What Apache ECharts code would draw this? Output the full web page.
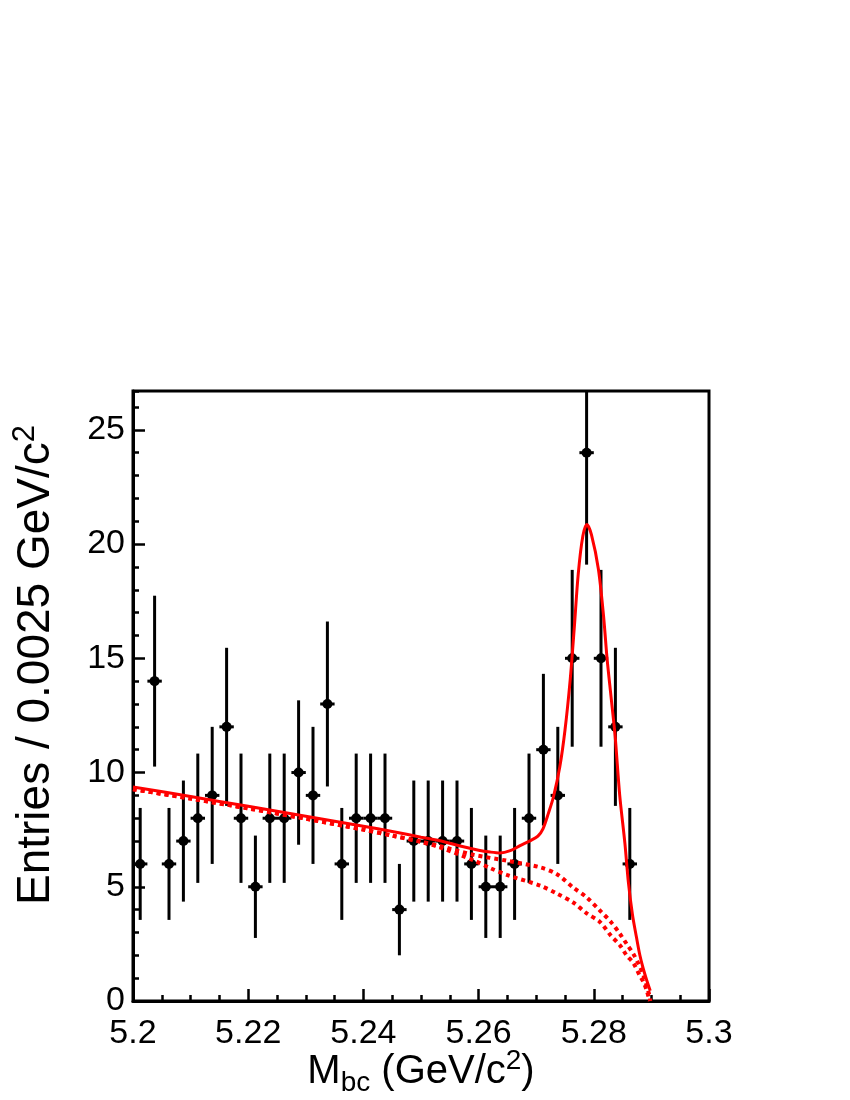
<!DOCTYPE html>
<html>
<head>
<meta charset="utf-8">
<title>Mbc fit</title>
<script src="https://cdn.jsdelivr.net/npm/echarts@6.0.0/dist/echarts.min.js"></script>
<style>
    html, body { margin: 0; padding: 0; background: #fff; }
    #mbc_chart { width: 850px; height: 1100px; }
</style>
</head>
<body>
<div id="mbc_chart"></div>
<script>
// Data
// ------------------------------

var binWidth = 0.0025;

// bin centres (GeV/c^2)
var binCenters = [
    5.20125, 5.20375, 5.20625, 5.20875, 5.21125, 5.21375, 5.21625, 5.21875,
    5.22125, 5.22375, 5.22625, 5.22875, 5.23125, 5.23375, 5.23625, 5.23875,
    5.24125, 5.24375, 5.24625, 5.24875, 5.25125, 5.25375, 5.25625, 5.25875,
    5.26125, 5.26375, 5.26625, 5.26875, 5.27125, 5.27375, 5.27625, 5.27875,
    5.28125, 5.28375, 5.28625
];

// entries per bin
var entries = [
    6, 14, 6, 7, 8, 9, 12, 8,
    5, 8, 8, 10, 9, 13, 6, 8,
    8, 8, 4, 7, 7, 7, 7, 6,
    5, 5, 6, 8, 11, 9, 15, 24,
    15, 12, 6
];

// error bar half lengths
var errors = [
    2.45, 3.74, 2.45, 2.65, 2.83, 3.00, 3.46, 2.83,
    2.24, 2.83, 2.83, 3.16, 3.00, 3.61, 2.45, 2.83,
    2.83, 2.83, 2.00, 2.65, 2.65, 2.65, 2.65, 2.45,
    2.24, 2.24, 2.45, 2.83, 3.32, 3.00, 3.87, 4.90,
    3.87, 3.46, 2.45
];

// total fit (solid)
var fitTotal = [
    [5.2000, 9.37], [5.2100, 8.95], [5.2200, 8.52], [5.2300, 8.09], [5.2400, 7.65],
    [5.2450, 7.42], [5.2500, 7.17], [5.2540, 6.97], [5.2570, 6.77], [5.2600, 6.60],
    [5.2620, 6.52], [5.2637, 6.48], [5.2655, 6.58], [5.2672, 6.80], [5.2690, 7.02],
    [5.2703, 7.22], [5.2712, 7.55], [5.2721, 8.20], [5.2730, 8.94], [5.2741, 10.25],
    [5.2750, 11.86], [5.2759, 14.06], [5.2766, 16.30], [5.2773, 18.70], [5.2781, 20.35],
    [5.2788, 20.86], [5.2796, 20.40], [5.2808, 18.90], [5.2817, 16.83], [5.2823, 15.00],
    [5.2830, 13.30], [5.2837, 11.60], [5.2845, 9.00], [5.2854, 6.90], [5.2860, 5.20],
    [5.2867, 3.80], [5.2874, 2.80], [5.2880, 2.00], [5.2886, 1.40], [5.2892, 0.90],
    [5.2898, 0.45]
];

// background components (dotted)
var bkgUpper = [
    [5.2000, 9.27], [5.2100, 8.86], [5.2200, 8.43], [5.2300, 7.98], [5.2400, 7.50],
    [5.2450, 7.24], [5.2500, 6.98], [5.2533, 6.78], [5.2591, 6.40], [5.2649, 6.14],
    [5.2707, 5.85], [5.2736, 5.55], [5.2765, 4.95], [5.2787, 4.55], [5.2811, 3.95],
    [5.2830, 3.45], [5.2845, 2.95], [5.2857, 2.50], [5.2869, 2.05], [5.2880, 1.50],
    [5.2886, 1.15], [5.2892, 0.65], [5.2896, 0.30], [5.2898, 0.00]
];
var bkgLower = [
    [5.2000, 9.27], [5.2100, 8.86], [5.2200, 8.43], [5.2300, 7.98], [5.2400, 7.50],
    [5.2450, 7.24], [5.2500, 6.96], [5.2533, 6.72], [5.2591, 6.16], [5.2620, 5.82],
    [5.2649, 5.52], [5.2707, 5.05], [5.2736, 4.70], [5.2765, 4.30], [5.2787, 3.85],
    [5.2811, 3.45], [5.2830, 2.85], [5.2845, 2.45], [5.2857, 2.00], [5.2869, 1.65],
    [5.2880, 1.10], [5.2886, 0.85], [5.2892, 0.45], [5.2897, 0.00]
];


// Setup chart
// ------------------------------

var fontFamily = '"Liberation Sans", Arial, Helvetica, sans-serif';

var pointData = binCenters.map(function(x, i) {
    return [x, entries[i], errors[i]];
});

var renderPoint = function(params, api) {
    var x = api.value(0);
    var y = api.value(1);
    var e = api.value(2);
    var top = api.coord([x, y + e]);
    var bot = api.coord([x, y - e]);
    var left = api.coord([x - binWidth / 2, y]);
    var right = api.coord([x + binWidth / 2, y]);
    var c = api.coord([x, y]);
    return {
        type: 'group',
        children: [
            { type: 'line', shape: { x1: top[0], y1: top[1], x2: bot[0], y2: bot[1] }, style: { stroke: '#000', lineWidth: 3 } },
            { type: 'line', shape: { x1: left[0], y1: c[1], x2: right[0], y2: c[1] }, style: { stroke: '#000', lineWidth: 3 } },
            { type: 'circle', shape: { cx: c[0], cy: c[1], r: 5 }, style: { fill: '#000' } }
        ]
    };
};

var chart = echarts.init(document.getElementById('mbc_chart'), null, { renderer: 'canvas' });

chart.setOption({
    backgroundColor: '#fff',
    animation: false,
    textStyle: { fontFamily: fontFamily, color: '#000' },

    grid: {
        left: 133,
        top: 391,
        width: 576,
        height: 610,
        outerBoundsMode: 'none',
        containLabel: false,
        show: true,
        borderColor: '#000',
        borderWidth: 3,
        backgroundColor: 'transparent'
    },

    xAxis: {
        type: 'value',
        min: 5.2,
        max: 5.3,
        interval: 0.02,
        name: '{m|M}{sub|bc}{m| (GeV/c}{sup|2}{m|)}',
        nameLocation: 'middle',
        nameGap: 46,
        nameMoveOverlap: false,
        nameTextStyle: {
            color: '#000',
            rich: {
                m: { fontSize: 40, fontFamily: fontFamily, color: '#000', lineHeight: 46 },
                sub: { fontSize: 28, fontFamily: fontFamily, color: '#000', verticalAlign: 'bottom', padding: [22, 0, 0, 0] },
                sup: { fontSize: 28, fontFamily: fontFamily, color: '#000', verticalAlign: 'top', padding: [0, 0, 14, 0] }
            }
        },
        axisLine: { onZero: false, lineStyle: { color: '#000', width: 3 } },
        axisTick: { inside: true, length: 12, lineStyle: { color: '#000', width: 2.5 } },
        minorTick: { show: true, splitNumber: 4, length: 6, lineStyle: { color: '#000', width: 2.5 } },
        axisLabel: {
            margin: 16,
            fontSize: 34,
            color: '#000',
            fontFamily: fontFamily,
            formatter: function(v) { return String(+v.toFixed(2)); }
        },
        splitLine: { show: false },
        minorSplitLine: { show: false }
    },

    yAxis: [{
        type: 'value',
        min: 0,
        max: 26.7,
        interval: 5,
        name: '{m|Entries / 0.0025 GeV/c}{sup|2}',
        nameLocation: 'middle',
        nameRotate: 90,
        nameGap: 71,
        nameMoveOverlap: false,
        nameTextStyle: {
            color: '#000',
            padding: [0, 0, 0, 62],
            rich: {
                m: { fontSize: 46, fontFamily: fontFamily, color: '#000', lineHeight: 52 },
                sup: { fontSize: 31, fontFamily: fontFamily, color: '#000', verticalAlign: 'top', padding: [0, 0, 14, 0] }
            }
        },
        axisLine: { lineStyle: { color: '#000', width: 3 } },
        axisTick: { inside: true, length: 12, lineStyle: { color: '#000', width: 2.5 } },
        axisLabel: {
            margin: 8,
            fontSize: 34,
            color: '#000',
            fontFamily: fontFamily,
            showMaxLabel: false
        },
        splitLine: { show: false }
    }, {
        // minor ticks every 1 entry
        type: 'value',
        position: 'left',
        min: 0,
        max: 26.7,
        interval: 1,
        axisLine: { show: false },
        axisTick: { inside: true, length: 6, lineStyle: { color: '#000', width: 2.5 } },
        axisLabel: { show: false },
        splitLine: { show: false }
    }],

    series: [
        {
            name: 'bkg upper',
            type: 'line',
            data: bkgUpper,
            showSymbol: false,
            smooth: 0.3,
            z: 3,
            lineStyle: { color: '#ff0000', width: 4, type: [4, 4] }
        },
        {
            name: 'bkg lower',
            type: 'line',
            data: bkgLower,
            showSymbol: false,
            smooth: 0.3,
            z: 3,
            lineStyle: { color: '#ff0000', width: 4, type: [4, 4] }
        },
        {
            name: 'data',
            type: 'custom',
            renderItem: renderPoint,
            data: pointData,
            clip: true,
            z: 2
        },
        {
            name: 'fit',
            type: 'line',
            data: fitTotal,
            showSymbol: false,
            smooth: 0.3,
            z: 4,
            lineStyle: { color: '#ff0000', width: 3 }
        }
    ]
});
</script>
</body>
</html>
